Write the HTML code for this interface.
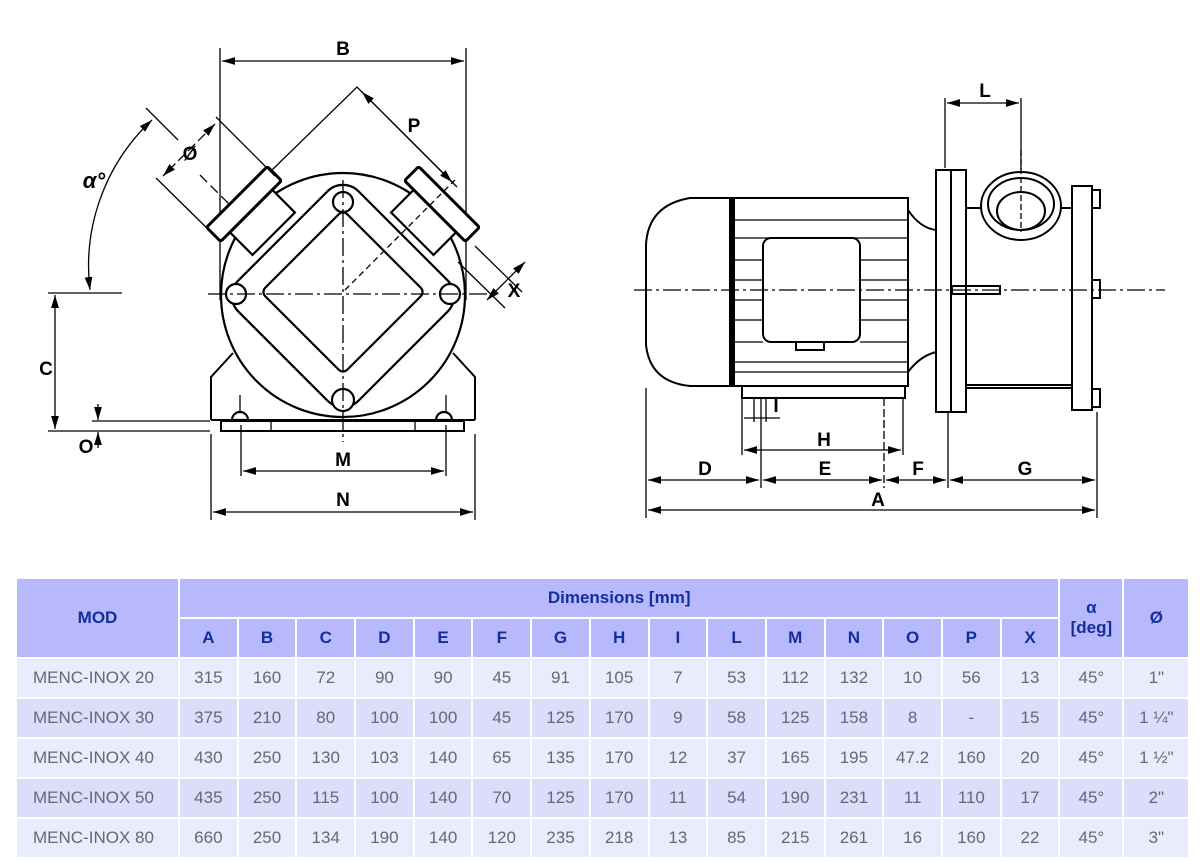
<!DOCTYPE html>
<html><head><meta charset="utf-8"><style>
html,body{margin:0;padding:0;background:#fff;width:1200px;height:861px;overflow:hidden;font-family:"Liberation Sans","DejaVu Sans",sans-serif}
svg{position:absolute;left:0;top:0}
table{position:absolute;left:15px;top:577px;border-collapse:collapse;table-layout:fixed;width:1174px}
td,th{border:2px solid #fff;text-align:center;padding:0;font-size:17px}
th{background:#b8b8fd;color:#13309a;font-weight:600;height:38px}
td{color:#676777;height:38px}
tr.a td{background:#e8ecfc}
tr.b td{background:#dcdcfb}
td.m{text-align:left;padding-left:16px}
</style></head><body>
<svg width="1200" height="575" viewBox="0 0 1200 575" fill="none" stroke="#000" stroke-width="1.3" font-family="Liberation Sans, sans-serif" font-weight="bold" font-size="19">
<defs><marker id="ar" viewBox="0 0 10 6" refX="10" refY="3" markerWidth="10" markerHeight="6" orient="auto-start-reverse"><path d="M0 0L10 3L0 6z" fill="#000" stroke="none"/></marker></defs>
<!-- LEFT VIEW -->
<line x1="220" y1="48" x2="220" y2="300"/><line x1="466" y1="48" x2="466" y2="300"/>
<line x1="222" y1="61" x2="464" y2="61" marker-start="url(#ar)" marker-end="url(#ar)"/>
<text x="343" y="55" fill="#000" stroke="none" text-anchor="middle">B</text>
<circle cx="343" cy="295" r="122" stroke-width="2.2"/>
<path d="M211 420 V377 L233 353 M475 420 V377 L453 353 M211 420 H475" stroke-width="2"/>
<rect x="221" y="421" width="243" height="10" stroke-width="2"/>
<line x1="271" y1="421" x2="271" y2="431"/><line x1="415" y1="421" x2="415" y2="431"/>
<g stroke-width="2.2">
<rect x="-85" y="-85" width="170" height="170" rx="22" transform="translate(343 296) rotate(45)"/>
<rect x="-58" y="-58" width="116" height="116" rx="6" transform="translate(343 292) rotate(45)"/>
<circle cx="343" cy="202" r="10" fill="#fff"/><circle cx="236" cy="294" r="10" fill="#fff"/>
<circle cx="450" cy="294" r="10" fill="#fff"/><circle cx="343" cy="400" r="11" fill="#fff"/>
<g transform="translate(244 204) rotate(-45)"><rect x="-30" y="10" width="60" height="32" fill="#fff"/><rect x="-43" y="-10" width="86" height="20" rx="2" fill="#fff" stroke-width="3"/></g>
<g transform="translate(442 204) rotate(45)"><rect x="-30" y="10" width="60" height="32" fill="#fff"/><rect x="-43" y="-10" width="86" height="20" rx="2" fill="#fff" stroke-width="3"/></g>
<path d="M232 420 a8 8 0 0 1 16 0z M436 420 a8 8 0 0 1 16 0z" fill="#fff"/>
</g>
<line x1="240" y1="395" x2="240" y2="412"/><line x1="446" y1="395" x2="446" y2="412"/>
<line x1="208" y1="294" x2="495" y2="294" stroke-dasharray="18 4 3 4"/>
<line x1="343" y1="180" x2="343" y2="442" stroke-dasharray="18 4 3 4"/>
<line x1="345" y1="290" x2="455" y2="180" stroke-dasharray="6 4"/>
<!-- P -->
<polyline points="272,170 357,87 457,187"/>
<line x1="362" y1="92" x2="452" y2="182" marker-start="url(#ar)" marker-end="url(#ar)"/>
<text x="414" y="132" fill="#000" stroke="none" text-anchor="middle">P</text>
<!-- X -->
<line x1="475" y1="246" x2="522" y2="292"/><line x1="458" y1="262" x2="505" y2="308"/>
<line x1="525" y1="262" x2="487" y2="300" marker-start="url(#ar)" marker-end="url(#ar)"/>
<text x="514" y="297" fill="#000" stroke="none" text-anchor="middle">X</text>
<!-- diameter -->
<line x1="146" y1="108" x2="178" y2="140"/><line x1="216" y1="117" x2="275" y2="176"/>
<line x1="156" y1="178" x2="215" y2="236"/>
<line x1="215" y1="124" x2="163" y2="176" marker-start="url(#ar)" marker-end="url(#ar)" stroke-dasharray="10 4"/>
<line x1="200" y1="175" x2="230" y2="205" stroke-dasharray="10 5"/>
<text x="190" y="160" fill="#000" stroke="none" text-anchor="middle">Ø</text>
<!-- alpha -->
<line x1="48" y1="293" x2="122" y2="293"/>
<path d="M90 290 A200 200 0 0 1 152 120" marker-start="url(#ar)" marker-end="url(#ar)"/>
<text x="94" y="188" fill="#000" stroke="none" text-anchor="middle" font-size="22" font-style="italic">α°</text>
<!-- C / O -->
<line x1="55" y1="295" x2="55" y2="429" marker-start="url(#ar)" marker-end="url(#ar)"/>
<line x1="48" y1="431" x2="210" y2="431"/><line x1="92" y1="421" x2="210" y2="421"/>
<text x="46" y="375" fill="#000" stroke="none" text-anchor="middle">C</text>
<line x1="98" y1="404" x2="98" y2="420" marker-end="url(#ar)"/><line x1="98" y1="448" x2="98" y2="432" marker-end="url(#ar)"/>
<text x="86" y="453" fill="#000" stroke="none" text-anchor="middle">O</text>
<!-- M N -->
<line x1="241" y1="425" x2="241" y2="476"/><line x1="446" y1="425" x2="446" y2="476"/>
<line x1="243" y1="471" x2="444" y2="471" marker-start="url(#ar)" marker-end="url(#ar)"/>
<text x="343" y="466" fill="#000" stroke="none" text-anchor="middle">M</text>
<line x1="211" y1="434" x2="211" y2="520"/><line x1="475" y1="434" x2="475" y2="520"/>
<line x1="213" y1="512" x2="473" y2="512" marker-start="url(#ar)" marker-end="url(#ar)"/>
<text x="343" y="506" fill="#000" stroke="none" text-anchor="middle">N</text>
<!-- RIGHT VIEW -->
<g stroke-width="2">
<path d="M730 198 H690 Q648 205 646 245 V345 Q650 382 690 386 H730 Z"/>
<rect x="730" y="198" width="178" height="188"/>
<line x1="733" y1="198" x2="733" y2="386" stroke-width="4"/>
<rect x="763" y="238" width="97" height="104" rx="8"/>
<rect x="796" y="342" width="28" height="8"/>
<path d="M908 210 Q920 228 936 230 M908 372 Q920 356 936 352"/>
<path d="M742 386 V398 H905 V386"/>
<rect x="936" y="170" width="30" height="242" fill="#fff"/>
<line x1="951" y1="170" x2="951" y2="412"/>
<rect x="966" y="208" width="106" height="180"/>
<rect x="1072" y="186" width="20" height="224" fill="#fff"/>
<rect x="1092" y="190" width="8" height="18"/><rect x="1092" y="280" width="8" height="18"/><rect x="1092" y="389" width="8" height="18"/>
<ellipse cx="1021" cy="206" rx="40" ry="34" fill="#fff"/>
<ellipse cx="1021" cy="204" rx="33" ry="26"/>
<ellipse cx="1021" cy="211" rx="24" ry="19"/>
<rect x="952" y="286" width="48" height="8"/>
<line x1="966" y1="385" x2="1072" y2="385"/>
</g>
<g stroke-width="1.3"><line x1="733" y1="220" x2="908" y2="220"/><line x1="733" y1="238" x2="908" y2="238"/><line x1="733" y1="362" x2="908" y2="362"/><line x1="733" y1="372" x2="908" y2="372"/>
<line x1="733" y1="260" x2="763" y2="260"/><line x1="733" y1="280" x2="763" y2="280"/><line x1="733" y1="300" x2="763" y2="300"/><line x1="733" y1="320" x2="763" y2="320"/><line x1="733" y1="342" x2="763" y2="342"/>
<line x1="860" y1="260" x2="908" y2="260"/><line x1="860" y1="280" x2="908" y2="280"/><line x1="860" y1="300" x2="908" y2="300"/><line x1="860" y1="320" x2="908" y2="320"/><line x1="860" y1="342" x2="908" y2="342"/></g>
<line x1="634" y1="290" x2="1165" y2="290" stroke-dasharray="18 4 3 4"/>
<line x1="1021" y1="150" x2="1021" y2="232" stroke-dasharray="6 3"/>
<!-- dims right -->
<line x1="945" y1="98" x2="945" y2="168"/><line x1="1021" y1="98" x2="1021" y2="170"/>
<line x1="947" y1="103" x2="1019" y2="103" marker-start="url(#ar)" marker-end="url(#ar)"/>
<text x="985" y="97" fill="#000" stroke="none" text-anchor="middle">L</text>
<line x1="646" y1="388" x2="646" y2="518"/><line x1="1097" y1="412" x2="1097" y2="518"/>
<line x1="742" y1="398" x2="742" y2="455"/><line x1="903" y1="398" x2="903" y2="455"/>
<line x1="754" y1="398" x2="754" y2="422"/><line x1="766" y1="398" x2="766" y2="422"/>
<line x1="761" y1="398" x2="761" y2="488"/><line x1="884" y1="398" x2="884" y2="488" stroke-dasharray="8 3"/>
<line x1="948" y1="412" x2="948" y2="488"/>
<line x1="744" y1="418" x2="780" y2="418"/>
<text x="776" y="412" fill="#000" stroke="none" text-anchor="middle">I</text>
<line x1="744" y1="450" x2="901" y2="450" marker-start="url(#ar)" marker-end="url(#ar)"/>
<text x="824" y="446" fill="#000" stroke="none" text-anchor="middle">H</text>
<line x1="648" y1="480" x2="759" y2="480" marker-start="url(#ar)" marker-end="url(#ar)"/>
<line x1="763" y1="480" x2="882" y2="480" marker-start="url(#ar)" marker-end="url(#ar)"/>
<line x1="886" y1="480" x2="946" y2="480" marker-start="url(#ar)" marker-end="url(#ar)"/>
<line x1="950" y1="480" x2="1095" y2="480" marker-start="url(#ar)" marker-end="url(#ar)"/>
<text x="705" y="475" fill="#000" stroke="none" text-anchor="middle">D</text>
<text x="825" y="475" fill="#000" stroke="none" text-anchor="middle">E</text>
<text x="918" y="475" fill="#000" stroke="none" text-anchor="middle">F</text>
<text x="1025" y="475" fill="#000" stroke="none" text-anchor="middle">G</text>
<line x1="648" y1="510" x2="1095" y2="510" marker-start="url(#ar)" marker-end="url(#ar)"/>
<text x="878" y="506" fill="#000" stroke="none" text-anchor="middle">A</text>
</svg>
<table>
<colgroup><col style="width:163px"><col span="15" style="width:58.7px"><col style="width:64px"><col style="width:66px"></colgroup>
<tr><th rowspan="2">MOD</th><th colspan="15">Dimensions [mm]</th><th rowspan="2">α<br>[deg]</th><th rowspan="2">Ø</th></tr>
<tr><th>A</th><th>B</th><th>C</th><th>D</th><th>E</th><th>F</th><th>G</th><th>H</th><th>I</th><th>L</th><th>M</th><th>N</th><th>O</th><th>P</th><th>X</th></tr>
<tr class="a"><td class="m">MENC-INOX 20</td><td>315</td><td>160</td><td>72</td><td>90</td><td>90</td><td>45</td><td>91</td><td>105</td><td>7</td><td>53</td><td>112</td><td>132</td><td>10</td><td>56</td><td>13</td><td>45°</td><td>1"</td></tr>
<tr class="b"><td class="m">MENC-INOX 30</td><td>375</td><td>210</td><td>80</td><td>100</td><td>100</td><td>45</td><td>125</td><td>170</td><td>9</td><td>58</td><td>125</td><td>158</td><td>8</td><td>-</td><td>15</td><td>45°</td><td>1 ¼"</td></tr>
<tr class="a"><td class="m">MENC-INOX 40</td><td>430</td><td>250</td><td>130</td><td>103</td><td>140</td><td>65</td><td>135</td><td>170</td><td>12</td><td>37</td><td>165</td><td>195</td><td>47.2</td><td>160</td><td>20</td><td>45°</td><td>1 ½"</td></tr>
<tr class="b"><td class="m">MENC-INOX 50</td><td>435</td><td>250</td><td>115</td><td>100</td><td>140</td><td>70</td><td>125</td><td>170</td><td>11</td><td>54</td><td>190</td><td>231</td><td>11</td><td>110</td><td>17</td><td>45°</td><td>2"</td></tr>
<tr class="a"><td class="m">MENC-INOX 80</td><td>660</td><td>250</td><td>134</td><td>190</td><td>140</td><td>120</td><td>235</td><td>218</td><td>13</td><td>85</td><td>215</td><td>261</td><td>16</td><td>160</td><td>22</td><td>45°</td><td>3"</td></tr>
</table>
</body></html>
